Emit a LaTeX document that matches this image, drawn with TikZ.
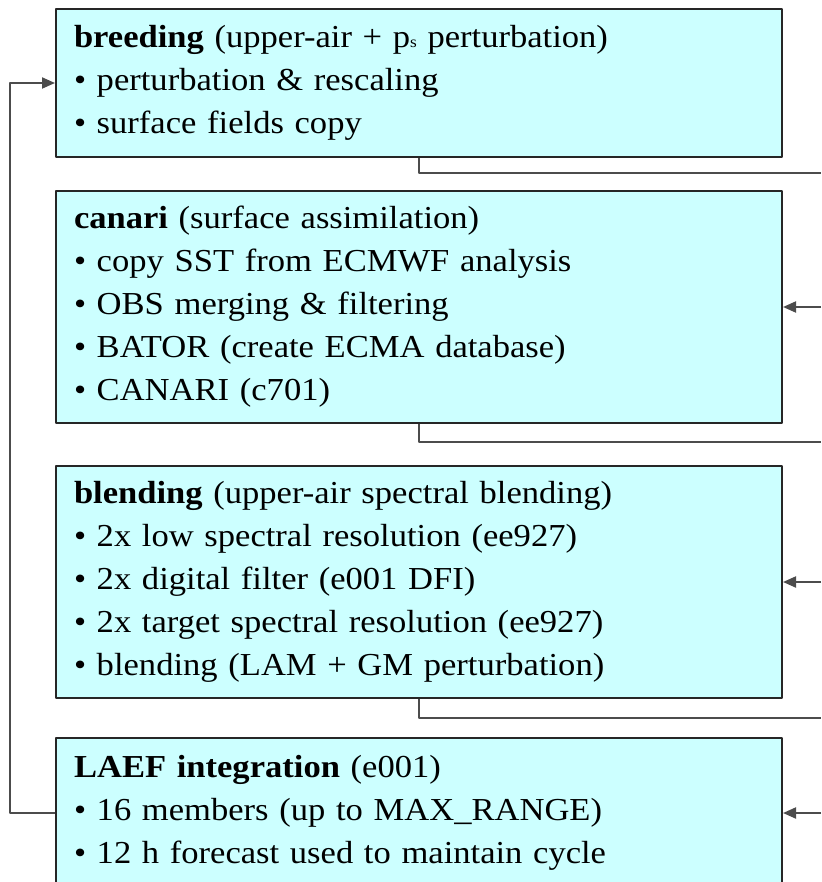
\documentclass[tikz,border=0pt]{standalone}
\usepackage{fontspec}
\setmainfont{Liberation Serif}[FakeStretch=1.08]
\usetikzlibrary{arrows.meta}
\definecolor{boxcyan}{HTML}{CCFFFF}
\tikzset{
	stagebox/.style={draw=black!85, line width=2pt, fill=boxcyan, anchor=north west,
		text width=690pt, inner xsep=18pt, inner ysep=0pt, align=left,
		font=\fontsize{32}{43}\selectfont},
	link/.style={draw=black!70, line width=2pt}
}
\newcommand{\itm}{\textbullet\ }
\begin{document}
\begin{tikzpicture}[x=1pt, y=-1pt, line join=round, >={Triangle[length=13pt,width=11pt]}]
	\useasboundingbox (0,0) rectangle (821,882);
	\clip (0,0) rectangle (821,882);
	\node[stagebox, minimum height=148pt] (breed) at (55,8) {\textbf{breeding} (upper-air + p{\fontsize{16}{16}\selectfont s} perturbation)\\ \itm perturbation \& rescaling\\ \itm surface fields copy};
	\node[stagebox, minimum height=232pt] (canari) at (55,190) {\textbf{canari} (surface assimilation)\\ \itm copy SST from ECMWF analysis\\ \itm OBS merging \& filtering\\ \itm BATOR (create ECMA database)\\ \itm CANARI (c701)};
	\node[stagebox, minimum height=232pt] (blend) at (55,465) {\textbf{blending} (upper-air spectral blending)\\ \itm 2x low spectral resolution (ee927)\\ \itm 2x digital filter (e001 DFI)\\ \itm 2x target spectral resolution (ee927)\\ \itm blending (LAM + GM perturbation)};
	\node[stagebox, minimum height=150pt] (laef) at (55,737) {\textbf{LAEF integration} (e001)\\ \itm 16 members (up to MAX\_RANGE)\\ \itm 12 h forecast used to maintain cycle};
	\coordinate (rim) at (821,0);
	\coordinate (lft) at (10,0);
	\coordinate (out1) at (821,173);
	\coordinate (out2) at (821,442);
	\coordinate (out3) at (821,718);
	\draw[link] (breed.south) |- (out1);
	\draw[link] (canari.south) |- (out2);
	\draw[link] (blend.south) |- (out3);
	\draw[link,->] (canari.east -| rim) -- (canari.east);
	\draw[link,->] (blend.east -| rim) -- (blend.east);
	\draw[link,->] (laef.east -| rim) -- (laef.east);
	\draw[link,->] (laef.west) -- (laef.west -| lft) |- (breed.west);
\end{tikzpicture}
\end{document}
